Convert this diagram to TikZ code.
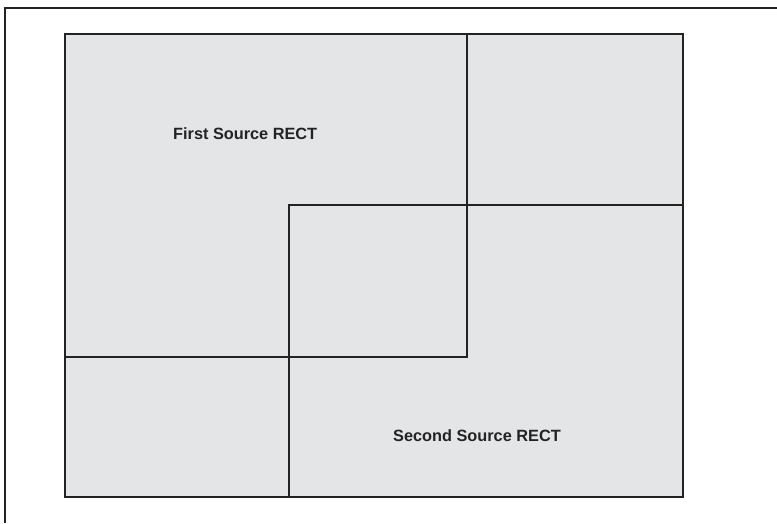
\documentclass[tikz,border=0pt]{standalone}
\usepackage{fontspec}
\setmainfont{Liberation Sans}
\definecolor{rectfill}{HTML}{E4E5E7}
\definecolor{rectline}{HTML}{232323}
\tikzset{
    srclabel/.style={anchor=base west, inner sep=0pt, font=\bfseries\fontsize{16.3}{18}\selectfont, text=rectline},
    srcline/.style={draw=rectline, line width=1.1pt}
}
\begin{document}
\begin{tikzpicture}[x=1pt, y=-1pt]
    \useasboundingbox (0,0) rectangle (777,523);
    % clipped frame
    \draw[rectline, line width=2pt] (5,523) -- (5,8) -- (777,8);
    % union area
    \fill[rectfill] (65,34) rectangle (683,497);
    % source rects
    \draw[srcline] (65,34) rectangle (467,357);
    \draw[srcline] (289,205) rectangle (683,497);
    \draw[rectline, line width=2.8pt] (65,34) rectangle (683,497);
    \node[srclabel] (first) at (173,139) {First Source RECT};
    \node[srclabel] (second) at (393,441) {Second Source RECT};
\end{tikzpicture}
\end{document}
